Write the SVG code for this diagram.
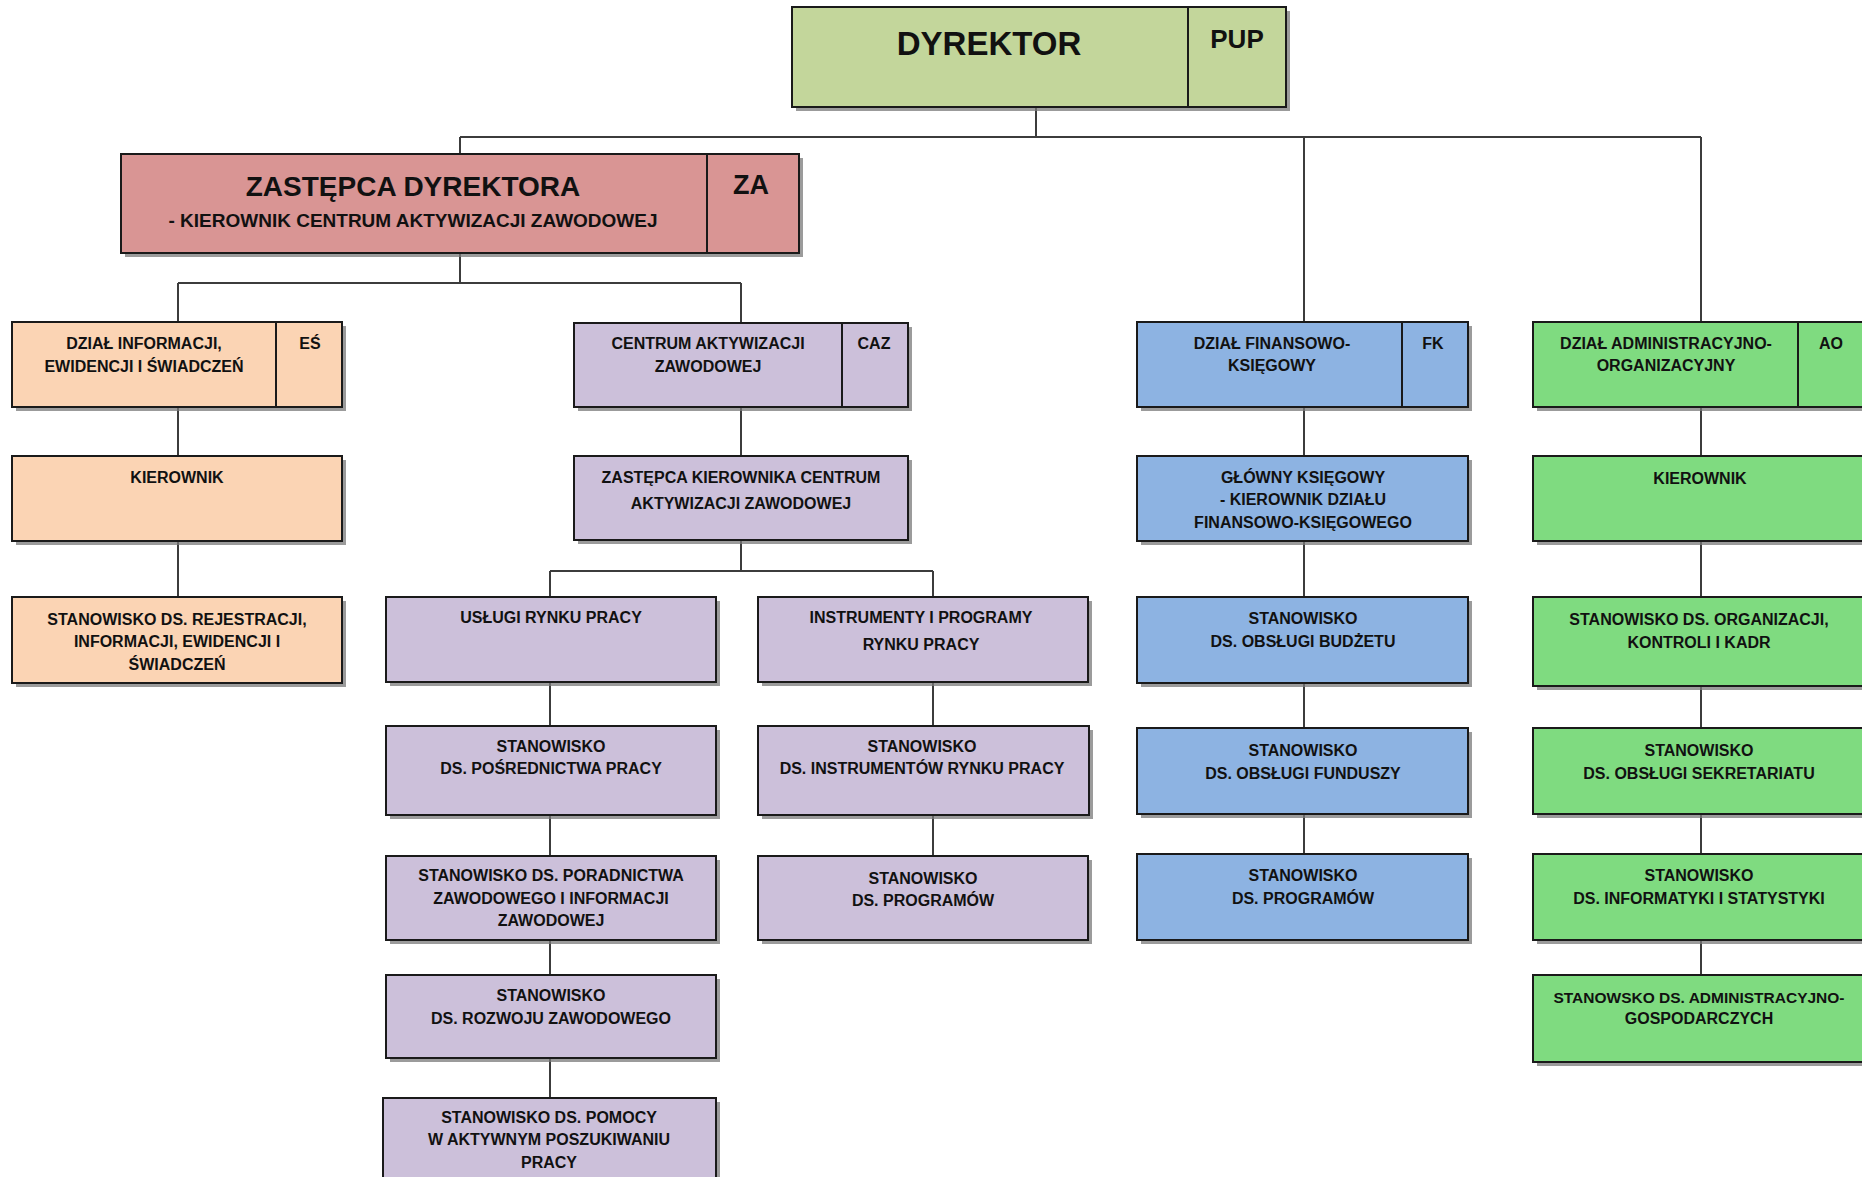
<svg xmlns="http://www.w3.org/2000/svg" width="1862" height="1177" viewBox="0 0 1862 1177">
<style>
.sh{fill:#7a7a7a;opacity:0.75}
.bx{stroke:#1a1a1a;stroke-width:2}
.dv{stroke:#1a1a1a;stroke-width:2}
.g1{fill:#C3D69B}
.pk{fill:#D99594}
.pe{fill:#FBD4B4}
.lv{fill:#CCC0DA}
.bl{fill:#8DB3E2}
.gr{fill:#7FDB80}
text{font-family:"Liberation Sans",Arial,sans-serif;font-weight:bold;fill:#111;text-anchor:middle}
.t{font-size:16px}
.c{fill:none;stroke:#3c3c3c;stroke-width:2}
</style>
<rect width="1862" height="1177" fill="#ffffff"/>
<g id="connectors">
<path class="c" d="M1036 107V137M460 137H1701M460 137V154M1304 137V322M1701 137V322"/>
<path class="c" d="M460 253V283M178 283H741M178 283V322M741 283V323"/>
<path class="c" d="M178 407V456M178 541V597"/>
<path class="c" d="M741 407V456M741 540V571M550 571H933M550 571V597M933 571V597"/>
<path class="c" d="M550 682V726M550 815V856M550 940V975M550 1058V1098"/>
<path class="c" d="M933 682V726M933 815V856"/>
<path class="c" d="M1304 407V456M1304 541V597M1304 683V728M1304 814V854"/>
<path class="c" d="M1701 407V456M1701 541V597M1701 686V728M1701 814V854M1701 940V975"/>
</g>
<g id="dyrektor">
<rect class="sh" x="796" y="11" width="494" height="100"/>
<rect class="bx g1" x="792" y="7" width="494" height="100"/>
<line class="dv" x1="1188" y1="7" x2="1188" y2="107"/>
<text x="989" y="55" style="font-size:33px">DYREKTOR</text>
<text x="1237" y="48" style="font-size:26px">PUP</text>
</g>
<g id="zastepca">
<rect class="sh" x="125" y="158" width="678" height="99"/>
<rect class="bx pk" x="121" y="154" width="678" height="99"/>
<line class="dv" x1="707" y1="154" x2="707" y2="253"/>
<text x="413" y="196" style="font-size:28px">ZASTĘPCA DYREKTORA</text>
<text x="413" y="227" style="font-size:19px">- KIEROWNIK CENTRUM AKTYWIZACJI ZAWODOWEJ</text>
<text x="751" y="194" style="font-size:27px">ZA</text>
</g>
<g id="es">
<rect class="sh" x="16" y="326" width="330" height="85"/>
<rect class="bx pe" x="12" y="322" width="330" height="85"/>
<line class="dv" x1="276" y1="322" x2="276" y2="407"/>
<text class="t" x="144" y="349">DZIAŁ INFORMACJI,</text>
<text class="t" x="144" y="372">EWIDENCJI I ŚWIADCZEŃ</text>
<text class="t" x="310" y="349">EŚ</text>
</g>
<g id="es-kierownik">
<rect class="sh" x="16" y="460" width="330" height="85"/>
<rect class="bx pe" x="12" y="456" width="330" height="85"/>
<text class="t" x="177" y="483">KIEROWNIK</text>
</g>
<g id="es-rejestracji">
<rect class="sh" x="16" y="601" width="330" height="86"/>
<rect class="bx pe" x="12" y="597" width="330" height="86"/>
<text class="t" x="177" y="625">STANOWISKO DS. REJESTRACJI,</text>
<text class="t" x="177" y="647">INFORMACJI, EWIDENCJI I</text>
<text class="t" x="177" y="670">ŚWIADCZEŃ</text>
</g>
<g id="caz">
<rect class="sh" x="578" y="327" width="334" height="84"/>
<rect class="bx lv" x="574" y="323" width="334" height="84"/>
<line class="dv" x1="842" y1="323" x2="842" y2="407"/>
<text class="t" x="708" y="349">CENTRUM AKTYWIZACJI</text>
<text class="t" x="708" y="372">ZAWODOWEJ</text>
<text class="t" x="874" y="349">CAZ</text>
</g>
<g id="caz-zastepca">
<rect class="sh" x="578" y="460" width="334" height="84"/>
<rect class="bx lv" x="574" y="456" width="334" height="84"/>
<text class="t" x="741" y="483">ZASTĘPCA KIEROWNIKA CENTRUM</text>
<text class="t" x="741" y="509">AKTYWIZACJI ZAWODOWEJ</text>
</g>
<g id="uslugi">
<rect class="sh" x="390" y="601" width="330" height="85"/>
<rect class="bx lv" x="386" y="597" width="330" height="85"/>
<text class="t" x="551" y="623">USŁUGI RYNKU PRACY</text>
</g>
<g id="instrumenty">
<rect class="sh" x="762" y="601" width="330" height="85"/>
<rect class="bx lv" x="758" y="597" width="330" height="85"/>
<text class="t" x="921" y="623">INSTRUMENTY I PROGRAMY</text>
<text class="t" x="921" y="650">RYNKU PRACY</text>
</g>
<g id="posrednictwa">
<rect class="sh" x="390" y="730" width="330" height="89"/>
<rect class="bx lv" x="386" y="726" width="330" height="89"/>
<text class="t" x="551" y="752">STANOWISKO</text>
<text class="t" x="551" y="774">DS. POŚREDNICTWA PRACY</text>
</g>
<g id="instrumentow">
<rect class="sh" x="762" y="730" width="331" height="89"/>
<rect class="bx lv" x="758" y="726" width="331" height="89"/>
<text class="t" x="922" y="752">STANOWISKO</text>
<text class="t" x="922" y="774">DS. INSTRUMENTÓW RYNKU PRACY</text>
</g>
<g id="poradnictwa">
<rect class="sh" x="390" y="860" width="330" height="84"/>
<rect class="bx lv" x="386" y="856" width="330" height="84"/>
<text class="t" x="551" y="881">STANOWISKO DS. PORADNICTWA</text>
<text class="t" x="551" y="904">ZAWODOWEGO I INFORMACJI</text>
<text class="t" x="551" y="926">ZAWODOWEJ</text>
</g>
<g id="caz-programow">
<rect class="sh" x="762" y="860" width="330" height="84"/>
<rect class="bx lv" x="758" y="856" width="330" height="84"/>
<text class="t" x="923" y="884">STANOWISKO</text>
<text class="t" x="923" y="906">DS. PROGRAMÓW</text>
</g>
<g id="rozwoju">
<rect class="sh" x="390" y="979" width="330" height="83"/>
<rect class="bx lv" x="386" y="975" width="330" height="83"/>
<text class="t" x="551" y="1001">STANOWISKO</text>
<text class="t" x="551" y="1024">DS. ROZWOJU ZAWODOWEGO</text>
</g>
<g id="pomocy">
<rect class="sh" x="387" y="1102" width="333" height="90"/>
<rect class="bx lv" x="383" y="1098" width="333" height="90"/>
<text class="t" x="549" y="1123">STANOWISKO DS. POMOCY</text>
<text class="t" x="549" y="1145">W AKTYWNYM POSZUKIWANIU</text>
<text class="t" x="549" y="1168">PRACY</text>
</g>
<g id="fk">
<rect class="sh" x="1141" y="326" width="331" height="85"/>
<rect class="bx bl" x="1137" y="322" width="331" height="85"/>
<line class="dv" x1="1402" y1="322" x2="1402" y2="407"/>
<text class="t" x="1272" y="349">DZIAŁ FINANSOWO-</text>
<text class="t" x="1272" y="371">KSIĘGOWY</text>
<text class="t" x="1433" y="349">FK</text>
</g>
<g id="glowny">
<rect class="sh" x="1141" y="460" width="331" height="85"/>
<rect class="bx bl" x="1137" y="456" width="331" height="85"/>
<text class="t" x="1303" y="483">GŁÓWNY KSIĘGOWY</text>
<text class="t" x="1303" y="505">- KIEROWNIK DZIAŁU</text>
<text class="t" x="1303" y="528">FINANSOWO-KSIĘGOWEGO</text>
</g>
<g id="budzetu">
<rect class="sh" x="1141" y="601" width="331" height="86"/>
<rect class="bx bl" x="1137" y="597" width="331" height="86"/>
<text class="t" x="1303" y="624">STANOWISKO</text>
<text class="t" x="1303" y="647">DS. OBSŁUGI BUDŻETU</text>
</g>
<g id="funduszy">
<rect class="sh" x="1141" y="732" width="331" height="86"/>
<rect class="bx bl" x="1137" y="728" width="331" height="86"/>
<text class="t" x="1303" y="756">STANOWISKO</text>
<text class="t" x="1303" y="779">DS. OBSŁUGI FUNDUSZY</text>
</g>
<g id="fk-programow">
<rect class="sh" x="1141" y="858" width="331" height="86"/>
<rect class="bx bl" x="1137" y="854" width="331" height="86"/>
<text class="t" x="1303" y="881">STANOWISKO</text>
<text class="t" x="1303" y="904">DS. PROGRAMÓW</text>
</g>
<g id="ao">
<rect class="sh" x="1537" y="326" width="330" height="85"/>
<rect class="bx gr" x="1533" y="322" width="330" height="85"/>
<line class="dv" x1="1798" y1="322" x2="1798" y2="407"/>
<text class="t" x="1666" y="349">DZIAŁ ADMINISTRACYJNO-</text>
<text class="t" x="1666" y="371">ORGANIZACYJNY</text>
<text class="t" x="1831" y="349">AO</text>
</g>
<g id="ao-kierownik">
<rect class="sh" x="1537" y="460" width="330" height="85"/>
<rect class="bx gr" x="1533" y="456" width="330" height="85"/>
<text class="t" x="1700" y="484">KIEROWNIK</text>
</g>
<g id="organizacji">
<rect class="sh" x="1537" y="601" width="330" height="89"/>
<rect class="bx gr" x="1533" y="597" width="330" height="89"/>
<text class="t" x="1699" y="625">STANOWISKO DS. ORGANIZACJI,</text>
<text class="t" x="1699" y="648">KONTROLI I KADR</text>
</g>
<g id="sekretariatu">
<rect class="sh" x="1537" y="732" width="330" height="86"/>
<rect class="bx gr" x="1533" y="728" width="330" height="86"/>
<text class="t" x="1699" y="756">STANOWISKO</text>
<text class="t" x="1699" y="779">DS. OBSŁUGI SEKRETARIATU</text>
</g>
<g id="informatyki">
<rect class="sh" x="1537" y="858" width="330" height="86"/>
<rect class="bx gr" x="1533" y="854" width="330" height="86"/>
<text class="t" x="1699" y="881">STANOWISKO</text>
<text class="t" x="1699" y="904">DS. INFORMATYKI I STATYSTYKI</text>
</g>
<g id="administracyjno">
<rect class="sh" x="1537" y="979" width="330" height="87"/>
<rect class="bx gr" x="1533" y="975" width="330" height="87"/>
<text class="t" x="1699" y="1003" style="font-size:15.5px">STANOWSKO DS. ADMINISTRACYJNO-</text>
<text class="t" x="1699" y="1024">GOSPODARCZYCH</text>
</g>
</svg>
